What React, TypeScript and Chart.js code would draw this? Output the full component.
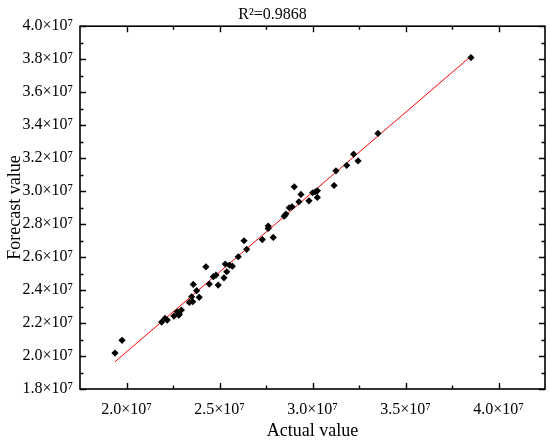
import React, { useEffect, useRef } from "react";
import { Chart, registerables } from "chart.js";

Chart.register(...registerables);

const actualValues = [
  1.938e7, 1.976e7, 2.189e7, 2.207e7, 2.219e7, 2.255e7, 2.273e7, 2.284e7, 2.295e7, 2.281e7,
  2.338e7, 2.356e7, 2.35e7, 2.359e7, 2.377e7, 2.391e7, 2.427e7, 2.445e7, 2.467e7, 2.481e7,
  2.493e7, 2.524e7, 2.531e7, 2.539e7, 2.553e7, 2.569e7, 2.601e7, 2.646e7, 2.632e7, 2.73e7,
  2.762e7, 2.762e7, 2.789e7, 2.848e7, 2.857e7, 2.875e7, 2.89e7, 2.902e7, 2.927e7, 2.938e7,
  2.981e7, 3.001e7, 3.015e7, 3.026e7, 3.026e7, 3.116e7, 3.126e7, 3.184e7, 3.221e7, 3.245e7,
  3.352e7, 3.852e7,
];

const forecastValues = [
  2.018e7, 2.095e7, 2.206e7, 2.228e7, 2.218e7, 2.242e7, 2.268e7, 2.254e7, 2.279e7, 2.248e7,
  2.325e7, 2.329e7, 2.359e7, 2.434e7, 2.396e7, 2.356e7, 2.541e7, 2.436e7, 2.481e7, 2.491e7,
  2.43e7, 2.474e7, 2.558e7, 2.511e7, 2.551e7, 2.545e7, 2.602e7, 2.647e7, 2.699e7, 2.706e7,
  2.788e7, 2.774e7, 2.719e7, 2.848e7, 2.861e7, 2.899e7, 2.905e7, 3.026e7, 2.935e7, 2.98e7,
  2.941e7, 2.99e7, 2.996e7, 3.002e7, 2.962e7, 3.034e7, 3.123e7, 3.156e7, 3.224e7, 3.183e7,
  3.35e7, 3.81e7,
];

const fitLineX = [1.938e7, 3.852e7];
const fitLineY = [1.965e7, 3.818e7];

const xTickValues = [2.0e7, 2.5e7, 3.0e7, 3.5e7, 4.0e7];
const yTickValues = [1.8e7, 2.0e7, 2.2e7, 2.4e7, 2.6e7, 2.8e7, 3.0e7, 3.2e7, 3.4e7, 3.6e7, 3.8e7, 4.0e7];

const titleText = "R²=0.9868";
const xAxisTitle = "Actual value";
const yAxisTitle = "Forecast value";

const FONT = "'Liberation Serif', 'Times New Roman', serif";

const fmt = (v: number) => (v / 1e7).toFixed(1) + "×10⁷";

const frameTicksPlugin = {
  id: "frameTicks",
  afterDraw(chart: any) {
    const { ctx, chartArea } = chart;
    const xs = chart.scales.x;
    const ys = chart.scales.y;
    const { left, right, top, bottom } = chartArea;
    ctx.save();
    ctx.strokeStyle = "#000";
    ctx.lineWidth = 1.6;
    ctx.strokeRect(left, top, right - left, bottom - top);
    const major = 6;
    const minor = 3.5;
    const xt = xs.ticks.map((t: any) => t.value);
    const yt = ys.ticks.map((t: any) => t.value);
    const drawX = (v: number, len: number) => {
      const p = Math.round(xs.getPixelForValue(v)) + 0.5;
      ctx.beginPath();
      ctx.moveTo(p, bottom);
      ctx.lineTo(p, bottom - len);
      ctx.moveTo(p, top);
      ctx.lineTo(p, top + len);
      ctx.stroke();
    };
    const drawY = (v: number, len: number) => {
      const p = Math.round(ys.getPixelForValue(v)) + 0.5;
      ctx.beginPath();
      ctx.moveTo(left, p);
      ctx.lineTo(left + len, p);
      ctx.moveTo(right, p);
      ctx.lineTo(right - len, p);
      ctx.stroke();
    };
    ctx.lineWidth = 1.4;
    xt.forEach((v: number) => drawX(v, major));
    for (let i = 0; i < xt.length - 1; i++) drawX((xt[i] + xt[i + 1]) / 2, minor);
    yt.forEach((v: number) => drawY(v, major));
    for (let i = 0; i < yt.length - 1; i++) drawY((yt[i] + yt[i + 1]) / 2, minor);
    ctx.restore();
  },
};

export default function App() {
  const canvasRef = useRef<HTMLCanvasElement | null>(null);

  useEffect(() => {
    document.body.style.margin = "0";
    const canvas = canvasRef.current;
    if (!canvas) return;
    const points = actualValues.map((v, i) => ({ x: v, y: forecastValues[i] }));
    const linePts = fitLineX.map((v, i) => ({ x: v, y: fitLineY[i] }));
    const chart = new Chart(canvas, {
      type: "scatter",
      data: {
        datasets: [
          {
            label: "fit",
            data: linePts,
            showLine: true,
            borderColor: "#ff0000",
            borderWidth: 1,
            pointRadius: 0,
            fill: false,
            order: 2,
          } as any,
          {
            label: "points",
            data: points,
            pointStyle: "rectRot",
            pointRadius: 3.6,
            backgroundColor: "#000",
            borderColor: "#000",
            borderWidth: 0,
            order: 1,
          } as any,
        ],
      },
      options: {
        animation: false,
        responsive: true,
        maintainAspectRatio: false,
        layout: { padding: { left: 0, right: 5, top: 0, bottom: 0 } },
        plugins: {
          legend: { display: false },
          tooltip: { enabled: false },
          title: {
            display: true,
            text: titleText,
            color: "#000",
            font: { family: FONT, size: 16, weight: "normal" },
            padding: { top: 5, bottom: 2 },
          },
        },
        scales: {
          x: {
            type: "linear",
            min: 1.75e7,
            max: 4.25e7,
            grid: { display: false, drawTicks: false, tickLength: 0 },
            border: { display: false },
            afterBuildTicks: (s: any) => {
              s.ticks = xTickValues.map((v) => ({ value: v }));
            },
            ticks: {
              color: "#000",
              padding: 11,
              maxRotation: 0,
              autoSkip: false,
              font: { family: FONT, size: 16 },
              callback: (v: any) => fmt(Number(v)),
            },
            title: {
              display: true,
              text: xAxisTitle,
              color: "#000",
              font: { family: FONT, size: 18 },
              padding: { top: 0, bottom: 0 },
            },
            afterFit: (s: any) => {
              s.height = 53;
            },
          },
          y: {
            type: "linear",
            min: 1.8e7,
            max: 4.0e7,
            grid: { display: false, drawTicks: false, tickLength: 0 },
            border: { display: false },
            afterBuildTicks: (s: any) => {
              s.ticks = yTickValues.map((v) => ({ value: v }));
            },
            ticks: {
              color: "#000",
              padding: 7,
              autoSkip: false,
              font: { family: FONT, size: 16 },
              callback: (v: any) => fmt(Number(v)),
            },
            title: {
              display: true,
              text: yAxisTitle,
              color: "#000",
              font: { family: FONT, size: 18 },
              padding: { top: 4, bottom: 0 },
            },
            afterFit: (s: any) => {
              s.width = 80;
            },
          },
        },
      } as any,
      plugins: [frameTicksPlugin],
    });
    return () => chart.destroy();
  }, []);

  return (
    <div style={{ width: 550, height: 442, position: "relative" }}>
      <canvas ref={canvasRef} />
    </div>
  );
}
